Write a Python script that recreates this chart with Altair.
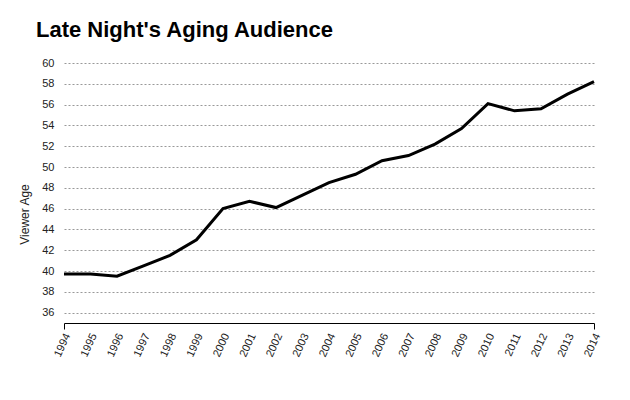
import altair as alt
import pandas as pd

years = list(range(1994, 2015))
ages = [39.7, 39.7, 39.5, 40.5, 41.5, 43.0, 46.0, 46.7, 46.1, 47.3, 48.5,
        49.3, 50.6, 51.1, 52.2, 53.7, 56.1, 55.4, 55.6, 57.0, 58.2]
y_ticks = list(range(36, 61, 2))

df = pd.DataFrame({"year": years, "age": ages})

FONT = "Helvetica Neue, Helvetica, Arial, Liberation Sans, sans-serif"

chart = alt.Chart(df).mark_line(color="black", strokeWidth=3).encode(
    x=alt.X("year:Q",
            scale=alt.Scale(domain=[1994, 2014], nice=False, zero=False),
            axis=alt.Axis(values=years, format="d", title=None, grid=False,
                          labelAngle=-65, labelAlign="right", labelBaseline="alphabetic",
                          labelPadding=6, labelOffset=6, labelFontSize=11, labelColor="#222",
                          domainColor="black", domainWidth=1,
                          tickColor="black", tickSize=6, tickWidth=1,
                          tickOpacity={"condition": {"test": "datum.value == 1994 || datum.value == 2014", "value": 1}, "value": 0})),
    y=alt.Y("age:Q",
            scale=alt.Scale(domain=[35, 60], nice=False, zero=False),
            axis=alt.Axis(values=y_ticks, title="Viewer Age", domain=False, ticks=False,
                          labelPadding=10, labelFontSize=11, labelColor="#222",
                          titleFontSize=12, titleFontWeight="normal", titleColor="#222",
                          titleAngle=-90, titleAlign="center", titleBaseline="alphabetic",
                          titleX=-36, titleY=151,
                          grid=True, gridColor="#999", gridDash=[2, 2], gridWidth=1)),
).properties(
    width=530, height=260,
    title=alt.TitleParams("Late Night's Aging Audience", anchor="start", fontSize=22,
                          fontWeight="bold", color="black", frame="group", dx=-28,
                          offset=15, font=FONT),
    autosize=alt.AutoSizeParams(type="none"),
    padding={"left": 56, "top": 55, "right": 28, "bottom": 70},
).configure(font=FONT).configure_view(stroke=None)

chart.save("out.html", embed_options={"renderer": "svg", "actions": False})
